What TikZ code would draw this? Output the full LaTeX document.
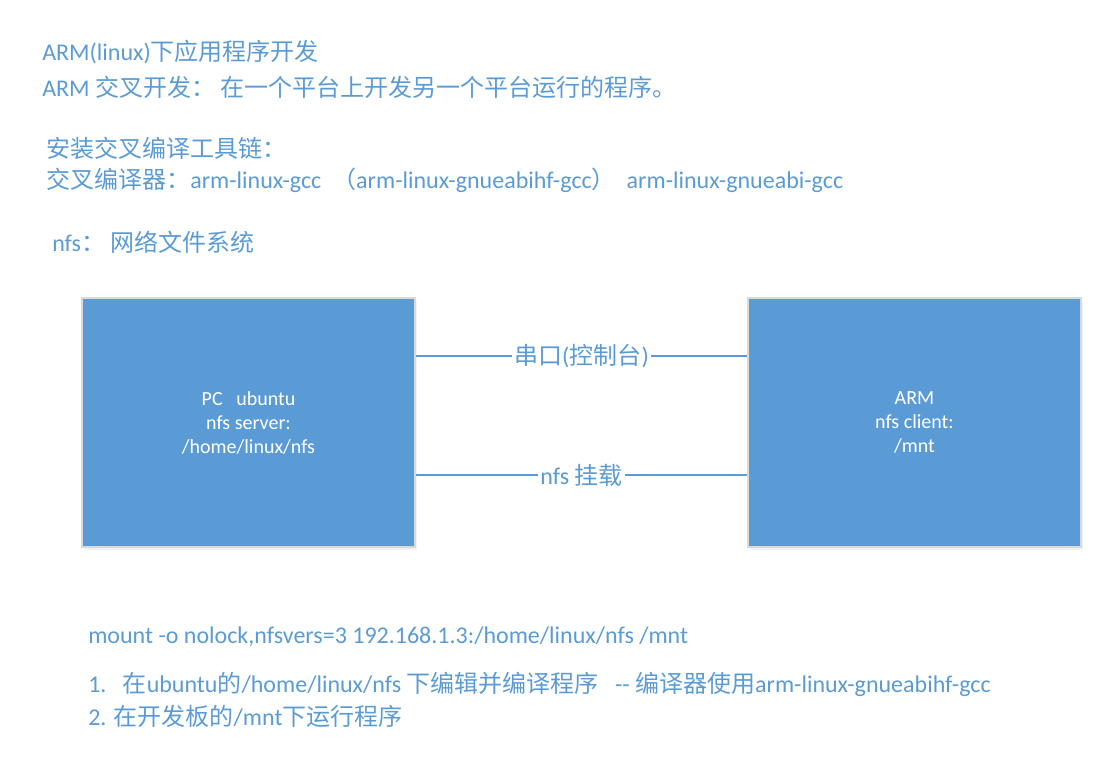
\documentclass[tikz,border=0pt]{standalone}
\usepackage{fontspec}
\setmainfont{Carlito}
\newfontfamily\cjkfont{Noto Sans CJK SC}
\newcommand{\zh}[1]{{\cjkfont #1}}
\usepackage{tikz}
\usetikzlibrary{calc,shadows}
\definecolor{officeblue}{HTML}{5B9BD5}
\tikzstyle{note}=[anchor=west, inner sep=0pt, text=officeblue, font=\fontsize{18}{22}\selectfont]
\tikzstyle{board}=[rectangle, fill=officeblue, draw=black!15, line width=0.8pt, minimum width=249.75pt, minimum height=186.75pt, align=center, text=white, font=\fontsize{15}{18}\selectfont, drop shadow={shadow xshift=1.5pt, shadow yshift=-2.5pt, opacity=0.1}]
\tikzstyle{link}=[draw=officeblue, line width=1.2pt]
\tikzstyle{linkL}=[fill=white, inner sep=1.5pt, text=officeblue, font=\fontsize{18}{22}\selectfont]

\begin{document}
\begin{tikzpicture}[x=0.75pt, y=-0.75pt]
      \useasboundingbox (0,0) rectangle (1105,772);
      % header notes
      \node(t1) [note] at (42, 52){ARM(linux)\zh{下应用程序开发}};
      \node(t2) [note] at (42, 87){ARM \zh{交叉开发：} \zh{在一个平台上开发另一个平台运行的程序。}};
      \node(t3) [note] at (46, 148){\zh{安装交叉编译工具链：}};
      \node(t4) [note] at (46, 180){\zh{交叉编译器：}arm-linux-gcc\ \ \zh{（}arm-linux-gnueabihf-gcc\zh{）}\ \ arm-linux-gnueabi-gcc};
      \node(t5) [note] at (52, 242){nfs\zh{：} \zh{网络文件系统}};
      % boards
      \node(pc) [board] at (248.5, 422.5){PC\ \ \ ubuntu\\nfs server:\\/home/linux/nfs};
      \node(arm) [board] at (914.5, 422.5){ARM\\nfs client:\\/mnt};
      \draw[link] ($(pc.east)+(0,-66.5)$) -- node[linkL]{\zh{串口}(\zh{控制台})} ($(arm.west)+(0,-66.5)$);
      \draw[link] ($(pc.east)+(0,52.5)$) -- node[linkL]{nfs \zh{挂载}} ($(arm.west)+(0,52.5)$);
      % footer notes
      \node(m) [note] at (88, 637){mount -o nolock,nfsvers=3 192.168.1.3:/home/linux/nfs /mnt};
      \node(s1) [note] at (88, 684){1.\ \ \ \zh{在}ubuntu\zh{的}/home/linux/nfs \zh{下编辑并编译程序}\ \ \ -{}- \zh{编译器使用}arm-linux-gnueabihf-gcc};
      \node(s2) [note] at (88, 716){2. \zh{在开发板的}/mnt\zh{下运行程序}};
\end{tikzpicture}
\end{document}
